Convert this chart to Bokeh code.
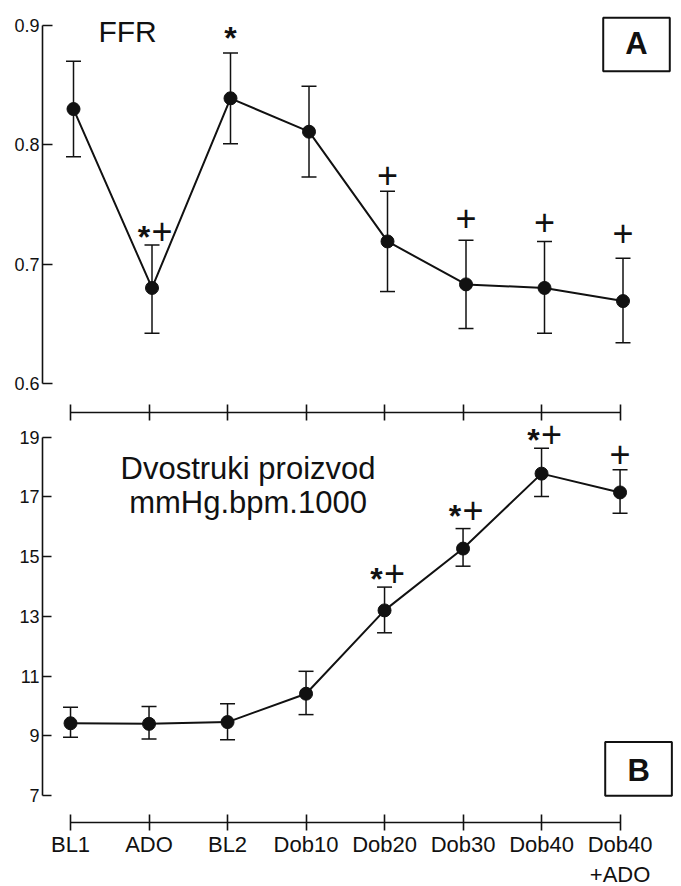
from bokeh.plotting import figure
from bokeh.layouts import column
from bokeh.models import Range1d, FixedTicker, BoxAnnotation, ColumnDataSource, LinearAxis
from bokeh.embed import file_html
from bokeh.resources import INLINE
from bokeh.core.properties import value

# ---------------- data ----------------
categories = ["BL1", "ADO", "BL2", "Dob10", "Dob20", "Dob30", "Dob40", "Dob40\n+ADO"]
xpos = list(range(len(categories)))

ffr_mean = [0.830, 0.680, 0.839, 0.811, 0.719, 0.683, 0.680, 0.669]
ffr_upper = [0.870, 0.716, 0.877, 0.849, 0.761, 0.720, 0.719, 0.705]
ffr_lower = [0.790, 0.642, 0.801, 0.773, 0.677, 0.646, 0.642, 0.634]
ffr_sig = ["", "*+", "*", "", "+", "+", "+", "+"]
ffr_sig_y = [0.0, 0.728, 0.895, 0.0, 0.775, 0.739, 0.735, 0.726]

dp_mean = [9.42, 9.40, 9.46, 10.41, 13.20, 15.27, 17.78, 17.15]
dp_upper = [9.96, 9.98, 10.07, 11.16, 13.98, 15.94, 18.63, 17.91]
dp_lower = [8.95, 8.89, 8.87, 9.71, 12.45, 14.68, 17.01, 16.45]
dp_sig = ["", "", "", "", "*+", "*+", "*+", "+"]
dp_sig_y = [0.0, 0.0, 0.0, 0.0, 14.46, 16.55, 19.11, 18.44]

ffr_ticks = [0.6, 0.7, 0.8, 0.9]
dp_ticks = [7, 9, 11, 13, 15, 17, 19]

FONT = "Liberation Sans"
BLACK = "#111111"


def base_style(p):
    p.xgrid.visible = False
    p.ygrid.visible = False
    p.outline_line_color = None
    p.background_fill_color = "white"
    p.border_fill_color = "white"


def style_axis(ax):
    ax.axis_line_color = BLACK
    ax.axis_line_width = 1.6
    ax.major_tick_line_color = BLACK
    ax.major_tick_line_width = 1.6
    ax.minor_tick_line_color = None
    ax.major_label_text_font = FONT
    ax.major_label_text_color = BLACK


def draw_series(p, mean, upper, lower, sig, sig_y):
    src = ColumnDataSource(dict(x=xpos, m=mean, u=upper, l=lower))
    p.segment(x0="x", y0="l", x1="x", y1="u", source=src, line_color=BLACK, line_width=1.5)
    p.scatter(x="x", y="u", source=src, marker="dash", size=15, line_color=BLACK, line_width=1.5)
    p.scatter(x="x", y="l", source=src, marker="dash", size=15, line_color=BLACK, line_width=1.5)
    p.line(x="x", y="m", source=src, line_color=BLACK, line_width=2)
    p.scatter(x="x", y="m", source=src, marker="circle", size=13, fill_color=BLACK, line_color=BLACK)
    # significance marks: "*" and "+" drawn as separate texts
    sx, sy, so, px, py, po = [], [], [], [], [], []
    for i, s in enumerate(sig):
        both = "*" in s and "+" in s
        if "*" in s:
            sx.append(xpos[i]); sy.append(sig_y[i]); so.append(-8 if both else 0)
        if "+" in s:
            px.append(xpos[i]); py.append(sig_y[i]); po.append(10 if both else 0)
    ssrc = ColumnDataSource(dict(x=sx, y=sy, o=so, t=["*"] * len(sx)))
    psrc = ColumnDataSource(dict(x=px, y=py, o=po, t=["+"] * len(px)))
    p.text(x="x", y="y", text="t", x_offset="o", y_offset=6, source=ssrc, text_align="center",
           text_baseline="middle", text_font=value(FONT), text_font_style="bold",
           text_font_size="32px", text_color=BLACK)
    p.text(x="x", y="y", text="t", x_offset="o", source=psrc, text_align="center",
           text_baseline="middle", text_font=value(FONT), text_font_size="36px", text_color=BLACK)


def add_text(p, x, y, t, size, align="center", bold=False):
    p.text(x=[x], y=[y], text=[t], text_align=align, text_baseline="middle",
           text_font=value(FONT), text_font_size=size, text_color=BLACK,
           text_font_style="bold" if bold else "normal")


# ---------------- panel A ----------------
p1 = figure(frame_width=636, frame_height=399,
            x_range=Range1d(-0.395, 7.707), y_range=Range1d(0.5823, 0.9168),
            output_backend="svg", toolbar_location=None,
            min_border_left=42, min_border_right=3, min_border_top=5, min_border_bottom=0)
base_style(p1)
p1.xaxis.visible = False
style_axis(p1.yaxis[0])
p1.yaxis.bounds = (ffr_ticks[0], ffr_ticks[-1])
p1.yaxis.ticker = FixedTicker(ticks=ffr_ticks)
p1.yaxis.major_tick_in = 10
p1.yaxis.major_tick_out = 0
p1.yaxis.major_label_standoff = 3
p1.yaxis.major_label_text_font_size = "18px"

draw_series(p1, ffr_mean, ffr_upper, ffr_lower, ffr_sig, ffr_sig_y)

add_text(p1, 0.318, 0.895, "FFR", "30px", align="left")
p1.add_layout(BoxAnnotation(left=6.748, right=7.596, bottom=0.8617, top=0.9065,
                            fill_color=None, line_color=BLACK, line_alpha=1.0, line_width=2))
add_text(p1, 7.172, 0.8847, "A", "31px", bold=True)

# ---------------- panel B ----------------
p2 = figure(frame_width=638, frame_height=410,
            x_range=Range1d(-0.357, 7.77), y_range=Range1d(6.097, 19.827),
            output_backend="svg", toolbar_location=None,
            min_border_left=40, min_border_right=3, min_border_top=0, min_border_bottom=0)
base_style(p2)
style_axis(p2.xaxis[0])
style_axis(p2.yaxis[0])
p2.xaxis.bounds = (0, len(categories) - 1)
p2.xaxis.ticker = FixedTicker(ticks=xpos)
p2.xaxis.major_label_overrides = {i: c for i, c in zip(xpos, categories)}
p2.xaxis.major_tick_in = 8
p2.xaxis.major_tick_out = 8
p2.xaxis.major_label_standoff = 1
p2.xaxis.major_label_text_font_size = "22px"
p2.yaxis.bounds = (dp_ticks[0], dp_ticks[-1])
p2.yaxis.ticker = FixedTicker(ticks=dp_ticks)
p2.yaxis.major_tick_in = 9
p2.yaxis.major_tick_out = 0
p2.yaxis.major_label_standoff = 3
p2.yaxis.major_label_text_font_size = "18px"

# shared category axis between the two panels (ticks only)
top_axis = LinearAxis(ticker=FixedTicker(ticks=xpos), bounds=(0, len(categories) - 1),
                      major_label_overrides={i: "" for i in xpos},
                      major_tick_in=8, major_tick_out=8, major_label_standoff=0)
style_axis(top_axis)
p2.add_layout(top_axis, "above")

draw_series(p2, dp_mean, dp_upper, dp_lower, dp_sig, dp_sig_y)

add_text(p2, 2.261, 17.935, "Dvostruki proizvod", "31px")
add_text(p2, 2.261, 16.813, "mmHg.bpm.1000", "31px")
p2.add_layout(BoxAnnotation(left=6.811, right=7.66, bottom=6.99, top=8.79,
                            fill_color=None, line_color=BLACK, line_alpha=1.0, line_width=2))
add_text(p2, 7.236, 7.838, "B", "31px", bold=True)

layout = column(p1, p2, spacing=0)
open("out.html", "w").write(file_html(layout, INLINE))
